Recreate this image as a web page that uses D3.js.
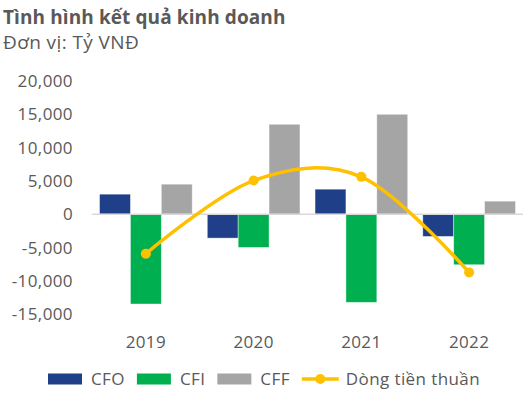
<!DOCTYPE html>
<html>
<head>
<meta charset="utf-8">
<script src="https://cdn.jsdelivr.net/npm/d3@7"></script>
<style>
  body { margin: 0; background: #fff; }
  text { font-family: "Open Sans", "Noto Sans", sans-serif; fill: #595959; letter-spacing: 0.4px; }
</style>
</head>
<body>
<div id="chart"></div>
<script>
// data (Tỷ VNĐ)
var years = ["2019", "2020", "2021", "2022"];
var cfo = [3000, -3600, 3750, -3350];
var cfi = [-13500, -5000, -13250, -7600];
var cff = [4500, 13500, 15000, 1950];
var net = [-5950, 5050, 5600, -8750];
var yTicks = [-15000, -10000, -5000, 0, 5000, 10000, 15000, 20000];

var seriesNames = ["CFO", "CFI", "CFF"];
var colors = { CFO: "#1F3F88", CFI: "#00B050", CFF: "#A5A5A5" };
var lineColor = "#FFC000";

var width = 525, height = 398;
var margin = { left: 92, right: 2, top: 81, bottom: 84 };

var svg = d3.select("#chart").append("svg")
    .attr("width", width)
    .attr("height", height);

// title
svg.append("text")
    .attr("x", 3).attr("y", 24)
    .style("font-size", "19px").style("font-weight", "bold")
    .style("letter-spacing", "0.1px")
    .text("Tình hình kết quả kinh doanh");
svg.append("text")
    .attr("x", 3).attr("y", 49)
    .style("font-size", "19px")
    .text("Đơn vị: Tỷ VNĐ");

var x = d3.scaleBand()
    .domain(years)
    .range([margin.left, width - margin.right])
    .paddingInner(0.14).paddingOuter(0.07);

var x1 = d3.scaleBand()
    .domain(seriesNames)
    .range([0, x.bandwidth()]);

var y = d3.scaleLinear()
    .domain([-15000, 20000])
    .range([314, 81]);

// y tick labels
svg.append("g").selectAll("text")
    .data(yTicks)
    .enter().append("text")
    .attr("x", 73)
    .attr("y", d => y(d))
    .attr("dy", "0.36em")
    .attr("text-anchor", "end")
    .style("font-size", "17px")
    .text(d => d3.format(",")(d).replace("−", "-"));

// bars
var data = years.map(function(yr, i) {
    return { year: yr, values: [
        { key: "CFO", v: cfo[i] },
        { key: "CFI", v: cfi[i] },
        { key: "CFF", v: cff[i] }
    ] };
});

svg.append("g").selectAll("g")
    .data(data)
    .enter().append("g")
    .attr("transform", d => "translate(" + x(d.year) + ",0)")
    .selectAll("rect")
    .data(d => d.values)
    .enter().append("rect")
    .attr("x", d => x1(d.key))
    .attr("width", x1.bandwidth())
    .attr("y", d => y(Math.max(0, d.v)))
    .attr("height", d => Math.abs(y(d.v) - y(0)))
    .attr("fill", d => colors[d.key])
    .attr("stroke", "#ffffff")
    .attr("stroke-opacity", 0.5)
    .attr("stroke-width", 0.8);

// zero line
svg.append("line")
    .attr("x1", margin.left).attr("x2", width - margin.right)
    .attr("y1", y(0)).attr("y2", y(0))
    .attr("stroke", "#D9D9D9")
    .attr("stroke-width", 1.5);

// net cash flow line
var cx = d => x(d) + x.bandwidth() / 2;
var line = d3.line()
    .x((d, i) => cx(years[i]))
    .y(d => y(d))
    .curve(d3.curveCardinal.tension(0));

svg.append("path")
    .datum(net)
    .attr("d", line)
    .attr("fill", "none")
    .attr("stroke", lineColor)
    .attr("stroke-width", 3.5);

svg.append("g").selectAll("circle")
    .data(net)
    .enter().append("circle")
    .attr("cx", (d, i) => cx(years[i]))
    .attr("cy", d => y(d))
    .attr("r", 5)
    .attr("fill", lineColor);

// x labels
svg.append("g").selectAll("text")
    .data(years)
    .enter().append("text")
    .attr("x", d => cx(d))
    .attr("y", 348)
    .attr("text-anchor", "middle")
    .style("font-size", "17px")
    .text(d => d);

// legend
var legend = svg.append("g");
var lx = 48, ly = 379;
seriesNames.forEach(function(name) {
    legend.append("rect")
        .attr("x", lx).attr("y", ly - 5.5)
        .attr("width", 34).attr("height", 11)
        .attr("fill", colors[name]);
    var t = legend.append("text")
        .attr("x", lx + 43).attr("y", ly)
        .attr("dy", "0.36em")
        .style("font-size", "17px")
        .text(name);
    lx = lx + 43 + t.node().getComputedTextLength() + 12;
});
legend.append("line")
    .attr("x1", lx).attr("x2", lx + 37)
    .attr("y1", ly).attr("y2", ly)
    .attr("stroke", lineColor).attr("stroke-width", 3.5);
legend.append("circle")
    .attr("cx", lx + 18.5).attr("cy", ly).attr("r", 5)
    .attr("fill", lineColor);
legend.append("text")
    .attr("x", lx + 44).attr("y", ly)
    .attr("dy", "0.36em")
    .style("font-size", "17px")
    .text("Dòng tiền thuần");
</script>
</body>
</html>
